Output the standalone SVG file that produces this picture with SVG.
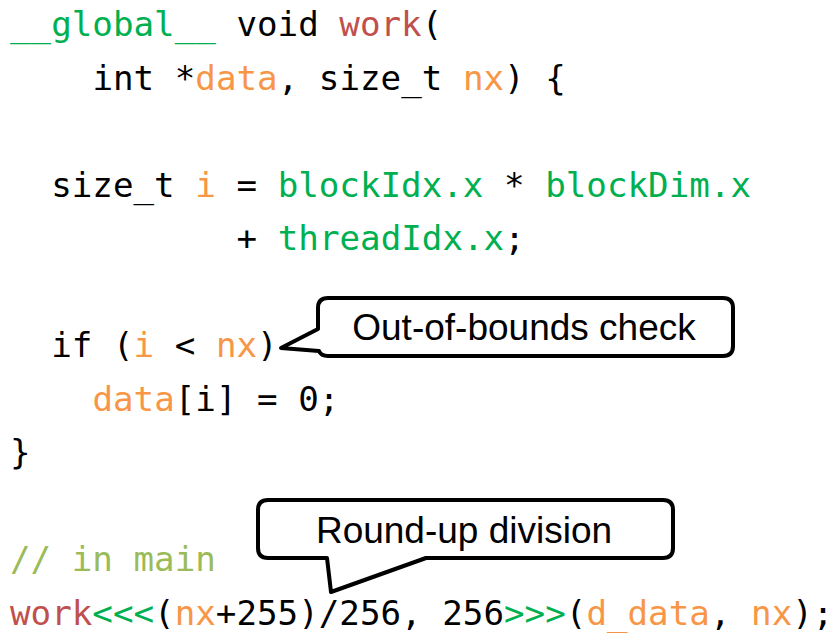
<svg xmlns="http://www.w3.org/2000/svg" width="835" height="633" viewBox="0 0 835 633">
  <style>
    .code { font-family: "DejaVu Sans Mono", "Liberation Mono", monospace; font-size: 34.2px; fill: #000000; white-space: pre; }
    .kw { fill: #00B050; }
    .fn { fill: #C0504D; }
    .var { fill: #F79646; }
    .cm { fill: #9BBB59; }
    .bubble { fill: #FFFFFF; stroke: #000000; stroke-width: 4; stroke-linejoin: round; }
    .note { font-family: "Liberation Sans", Arial, sans-serif; font-size: 37px; fill: #000000; text-anchor: middle; }
  </style>
  <rect x="0" y="0" width="835" height="633" fill="#FFFFFF"/>

  <!-- kernel source; indentation is set by x (one column = 20.6px) -->
  <g id="code" class="code" xml:space="preserve">
    <text x="10" y="36"><tspan class="kw">__global__</tspan> void <tspan class="fn">work</tspan>(</text>
    <text x="92.4" y="89.5">int *<tspan class="var">data</tspan>, size_t <tspan class="var">nx</tspan>) {</text>
    <text x="51.2" y="196.5">size_t <tspan class="var">i</tspan> = <tspan class="kw">blockIdx.x</tspan> * <tspan class="kw">blockDim.x</tspan></text>
    <text x="236.6" y="250">+ <tspan class="kw">threadIdx.x</tspan>;</text>
    <text x="51.2" y="357">if (<tspan class="var">i</tspan> &lt; <tspan class="var">nx</tspan>)</text>
    <text x="92.4" y="410.5"><tspan class="var">data</tspan>[i] = 0;</text>
    <text x="10" y="464">}</text>
    <text x="10" y="571"><tspan class="cm">// in main</tspan></text>
    <text x="10" y="624.5"><tspan class="fn">work</tspan><tspan class="kw">&lt;&lt;&lt;</tspan>(<tspan class="var">nx</tspan>+255)/256, 256<tspan class="kw">&gt;&gt;&gt;</tspan>(<tspan class="var">d_data</tspan>, <tspan class="var">nx</tspan>);</text>
  </g>

  <!-- callout pointing at the bounds test -->
  <g id="callout-bounds">
    <path class="bubble" d="M 281,348 L 318,329 V 308 Q 318,298 328,298 H 723 Q 733,298 733,308 V 346 Q 733,356 723,356 H 328 Q 321,356 319,351 Z"/>
    <text class="note" x="524" y="340">Out-of-bounds check</text>
  </g>

  <!-- callout pointing at the grid size expression -->
  <g id="callout-roundup">
    <path class="bubble" d="M 331,592 L 327,558 H 268 Q 258,558 258,548 V 510 Q 258,500 268,500 H 663 Q 673,500 673,510 V 548 Q 673,558 663,558 H 426 Z"/>
    <text class="note" x="464" y="543">Round-up division</text>
  </g>
</svg>
